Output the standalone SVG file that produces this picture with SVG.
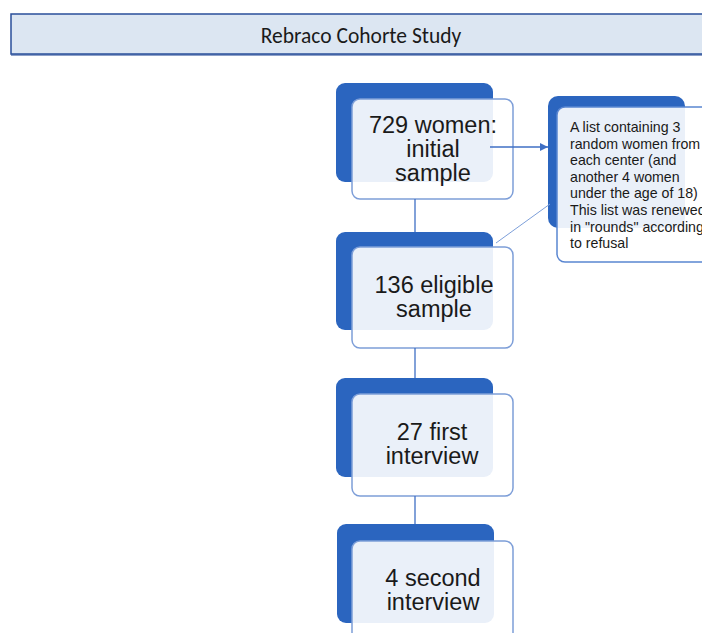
<svg xmlns="http://www.w3.org/2000/svg" width="702" height="633" viewBox="0 0 702 633">
  <defs>
    <style>
      .back { fill: #2b65bf; }
      .front { fill: #ffffff; fill-opacity: 0.9; stroke: #7d9ed8; stroke-width: 1.5; }
      .note-front { fill: #ffffff; fill-opacity: 0.9; stroke: #5a86d1; stroke-width: 1.5; }
      .label { font-family: "Liberation Sans", Arial, sans-serif; font-size: 23.5px; fill: #1a1a1a; text-anchor: middle; }
      .note { font-family: "Liberation Sans", Arial, sans-serif; font-size: 14.2px; fill: #1a1a1a; }
      .title { font-family: Carlito, Lato, "Liberation Sans", sans-serif; font-size: 21.5px; fill: #1a1a1a; text-anchor: middle; }
      .link { stroke: #3f6fc4; stroke-width: 1.3; fill: none; }
      .link-light { stroke: #7d9fd9; stroke-width: 1; fill: none; }
    </style>
    <marker id="arrow" viewBox="0 0 8 8" refX="8" refY="4" markerWidth="8" markerHeight="8" markerUnits="userSpaceOnUse" orient="auto">
      <path d="M0,0 L8,4 L0,8 z" fill="#3f6fc4"/>
    </marker>
  </defs>

  <rect width="702" height="633" fill="#ffffff"/>

  <!-- title banner -->
  <g id="title">
    <rect x="11" y="53" width="700" height="3" fill="#8da0c8"/>
    <rect x="11" y="14" width="700" height="40" fill="#dce6f2" stroke="#2a4f9a" stroke-width="1.5"/>
    <text class="title" x="361" y="43">Rebraco Cohorte Study</text>
  </g>

  <!-- flow steps -->
  <g id="step-initial">
    <rect class="back" x="336" y="83" width="157" height="99" rx="9"/>
    <rect class="front" x="352" y="99" width="161" height="100" rx="8"/>
    <text class="label" x="433" y="133">729 women:</text>
    <text class="label" x="433" y="157">initial</text>
    <text class="label" x="433" y="181">sample</text>
  </g>

  <g id="step-eligible">
    <rect class="back" x="336" y="232" width="157" height="98" rx="9"/>
    <rect class="front" x="352" y="247" width="161" height="101" rx="8"/>
    <text class="label" x="434" y="293">136 eligible</text>
    <text class="label" x="434" y="317">sample</text>
  </g>

  <g id="step-first">
    <rect class="back" x="336" y="378" width="157" height="99" rx="9"/>
    <rect class="front" x="352" y="394" width="161" height="102" rx="8"/>
    <text class="label" x="432" y="440">27 first</text>
    <text class="label" x="432" y="464">interview</text>
  </g>

  <g id="step-second">
    <rect class="back" x="337" y="524" width="157" height="99" rx="9"/>
    <rect class="front" x="352" y="541" width="161" height="110" rx="8"/>
    <text class="label" x="433" y="586">4 second</text>
    <text class="label" x="433" y="610">interview</text>
  </g>

  <!-- side note on the sampling list -->
  <g id="note-list">
    <rect class="back" x="548" y="96" width="137" height="132" rx="10"/>
    <rect class="note-front" x="557" y="107" width="170" height="155" rx="8"/>
    <text class="note" x="570" y="132">A list containing  3</text>
    <text class="note" x="570" y="148.6">random women from</text>
    <text class="note" x="570" y="165.2">each center (and</text>
    <text class="note" x="570" y="181.8">another 4 women</text>
    <text class="note" x="570" y="198.4">under the age of 18)</text>
    <text class="note" x="570" y="215">This list was renewed</text>
    <text class="note" x="570" y="231.6">in "rounds" according</text>
    <text class="note" x="570" y="248">to refusal</text>
  </g>

  <!-- connectors -->
  <g id="connectors">
    <line class="link" x1="415" y1="199" x2="415" y2="232"/>
    <line class="link" x1="415" y1="348" x2="415" y2="378"/>
    <line class="link" x1="415" y1="496" x2="415" y2="524"/>
    <line class="link" x1="490" y1="147" x2="548" y2="147" marker-end="url(#arrow)"/>
    <line class="link-light" x1="496" y1="243" x2="550" y2="204"/>
  </g>
</svg>
